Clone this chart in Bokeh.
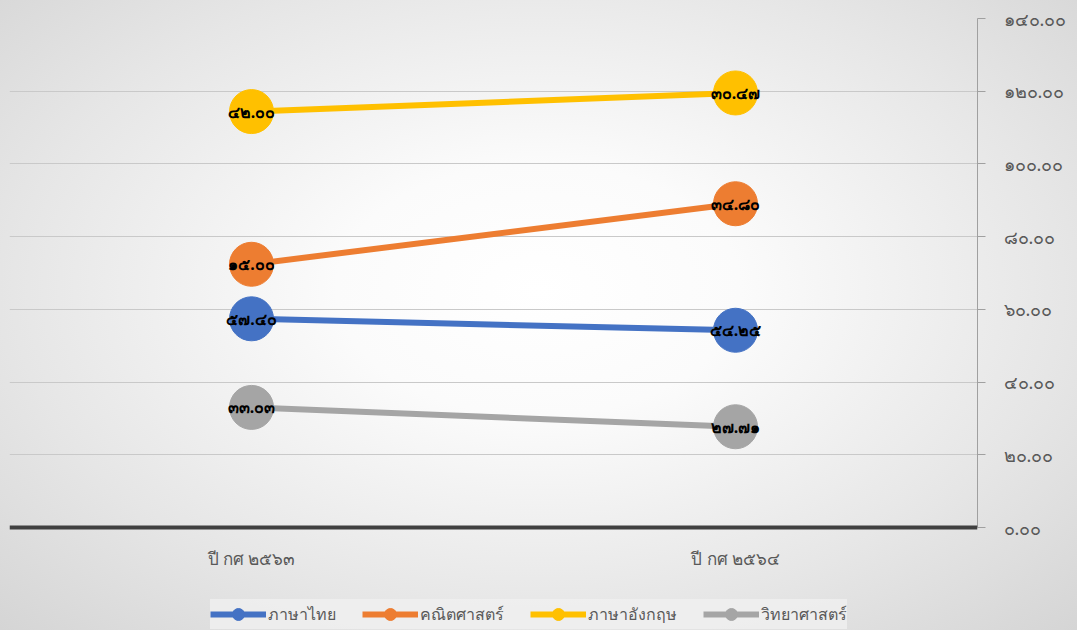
from bokeh.plotting import figure
from bokeh.models import (FactorRange, Range1d, FixedTicker, Legend, LegendItem,
                          ColumnDataSource, Span)
from bokeh.core.properties import value
from bokeh.embed import file_html
from bokeh.resources import INLINE

# ---- data ----
categories = ["ปี กศ ๒๕๖๓", "ปี กศ ๒๕๖๔"]
series_names = ["ภาษาไทย", "คณิตศาสตร์", "ภาษาอังกฤษ", "วิทยาศาสตร์"]
thai_vals = [57.40, 54.25]
math_vals = [15.00, 34.80]
eng_vals = [42.00, 30.47]
sci_vals = [33.03, 27.71]
y_ticks = [0, 20, 40, 60, 80, 100, 120, 140]
colors = ["#4472C4", "#ED7D31", "#FFC000", "#A5A5A5"]

TH = str.maketrans("0123456789", "๐๑๒๓๔๕๖๗๘๙")
def th(v):
    return f"{v:.2f}".translate(TH)

# stacked positions for the first three series (stacked line chart), last unstacked
math_pos = [a + b for a, b in zip(thai_vals, math_vals)]
eng_pos = [a + b for a, b in zip(math_pos, eng_vals)]
positions = [thai_vals, math_pos, eng_pos, sci_vals]
raw = [thai_vals, math_vals, eng_vals, sci_vals]

FONT = "Noto Sans"
# frame runs to the bottom of the canvas; the value axis spans 0..140 only,
# space below 0 holds the category labels and the legend
Y_MIN = -140 * 103 / 509.0

p = figure(width=1077, height=630, x_range=FactorRange(*categories),
           y_range=Range1d(Y_MIN, 140), y_axis_location="right",
           output_backend="svg", toolbar_location=None,
           min_border_left=9, min_border_top=18, min_border_right=100, min_border_bottom=0)
p.styles = {"background-image": "radial-gradient(ellipse 75% 80% at 50% 46%, #ffffff 0%, #fbfbfb 25%, #e6e6e6 65%, #d2d2d2 100%)"}
p.background_fill_alpha = 0
p.border_fill_alpha = 0
p.outline_line_color = None

p.xaxis.visible = False
p.xgrid.grid_line_color = None
p.ygrid.grid_line_color = "#c9c9c9"
p.ygrid.grid_line_width = 1
p.ygrid.ticker = FixedTicker(ticks=y_ticks[1:])

ya = p.yaxis[0]
ya.ticker = FixedTicker(ticks=y_ticks)
ya.bounds = (0, 140)
ya.major_label_overrides = {t: th(t) for t in y_ticks}
ya.axis_line_color = "#a0a0a0"
ya.major_tick_line_color = "#a0a0a0"
ya.major_tick_in = 0
ya.major_tick_out = 8
ya.minor_tick_line_color = None
ya.major_label_standoff = 18
ya.major_label_text_color = "#595959"
ya.major_label_text_font = FONT
ya.major_label_text_font_size = "18px"

# category axis line at value 0
p.add_layout(Span(location=0, dimension="width", line_color="#404040", line_width=4))

# category labels
cat_src = ColumnDataSource(dict(x=categories, y=[0] * len(categories), t=categories))
p.text("x", "y", text="t", source=cat_src, y_offset=31, text_align="center",
       text_baseline="middle", text_color="#595959", text_font=value(FONT),
       text_font_size="17px")

items = []
for name, ys, vals, c in zip(series_names, positions, raw, colors):
    src = ColumnDataSource(dict(x=categories, y=ys, lab=[th(v) for v in vals]))
    ln = p.line("x", "y", source=src, line_color=c, line_width=6)
    sc = p.scatter("x", "y", source=src, size=44, fill_color=c, line_color=c)
    p.text("x", "y", text="lab", source=src, text_align="center", text_baseline="middle",
           text_color="#000000", text_font=value(FONT), text_font_size="16px",
           text_font_style="bold")
    items.append(LegendItem(label=name, renderers=[ln, sc]))

legend = Legend(items=items, orientation="horizontal", location=(201, 1),
                glyph_width=56, glyph_height=30, label_standoff=2, spacing=26,
                padding=12, margin=0,
                label_text_font=FONT, label_text_font_size="16px",
                label_text_color="#595959",
                background_fill_color="#f0f0f0", background_fill_alpha=0.8,
                border_line_color=None)
p.add_layout(legend, "center")

open("out.html", "w").write(file_html(p, INLINE))
